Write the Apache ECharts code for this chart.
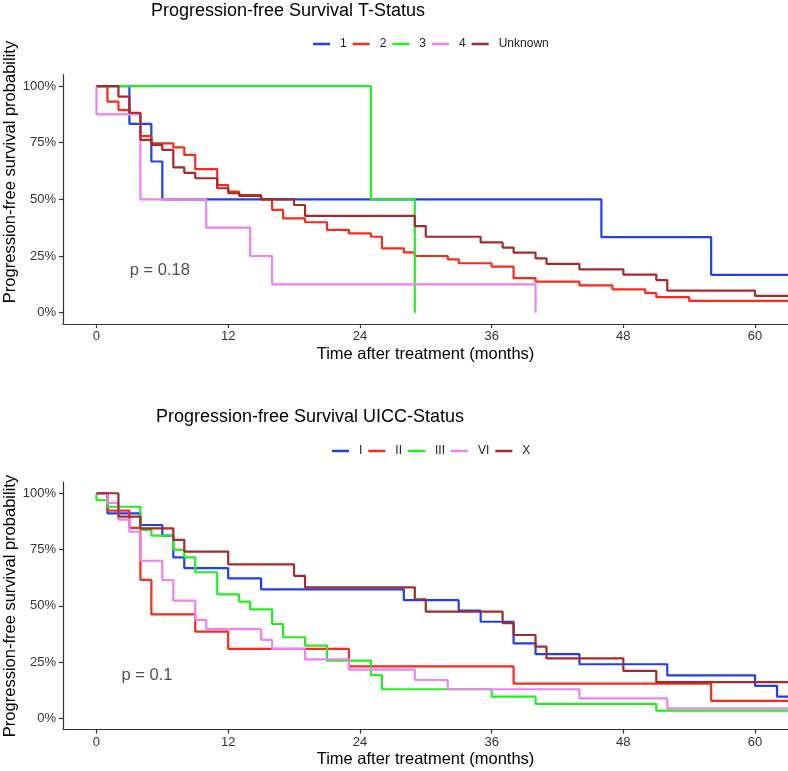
<!DOCTYPE html>
<html>
<head>
<meta charset="utf-8">
<script src="https://cdn.jsdelivr.net/npm/echarts@6/dist/echarts.min.js"></script>
<style>
html,body{margin:0;padding:0;background:#fff;}
#chart{width:788px;height:771px;}
</style>
</head>
<body>
<div id="chart"></div>
<script>
// ---------- DATA ----------
const xTicks = [0, 12, 24, 36, 48, 60];
const yTicks = [0, 0.25, 0.5, 0.75, 1];

// Top chart: T-Status
const tNames = ['1', '2', '3', '4', 'Unknown'];
const t1Time = [0, 3, 5, 6, 46, 56, 63];
const t1Surv = [1, 0.833, 0.667, 0.5, 0.333, 0.167, 0.167];
const t2Time = [0, 1, 2, 3, 4, 5, 7, 8, 9, 11, 12, 13, 15, 16, 17, 19, 21, 23, 25, 26, 28, 29, 32, 33, 36, 38, 40, 44, 47, 50, 51, 54, 63];
const t2Surv = [1, 0.931, 0.894, 0.880, 0.779, 0.747, 0.729, 0.696, 0.633, 0.563, 0.534, 0.519, 0.5, 0.454, 0.416, 0.399, 0.365, 0.35, 0.335, 0.284, 0.266, 0.25, 0.235, 0.218, 0.203, 0.152, 0.137, 0.12, 0.103, 0.086, 0.069, 0.052, 0.052];
const t3Time = [0, 25, 29];
const t3Surv = [1, 0.5, 0];
const t4Time = [0, 0, 4, 10, 14, 16, 40];
const t4Surv = [1, 0.875, 0.5, 0.375, 0.25, 0.125, 0];
const t5Time = [0, 2, 3, 4, 5, 6, 7, 8, 9, 11, 12, 13, 15, 18, 19, 29, 30, 35, 37, 38, 40, 41, 44, 48, 51, 52, 60, 63];
const t5Surv = [1, 0.953, 0.882, 0.762, 0.74, 0.718, 0.641, 0.617, 0.593, 0.549, 0.527, 0.515, 0.5, 0.475, 0.427, 0.382, 0.335, 0.31, 0.287, 0.265, 0.24, 0.215, 0.191, 0.168, 0.144, 0.097, 0.074, 0.074];
const tPText = 'p = 0.18';
const tPPos = [3.04, 0.186];

// Bottom chart: UICC-Status
const uNames = ['I', 'II', 'III', 'VI', 'X'];
const u1Time = [0, 1, 4, 6, 7, 8, 12, 15, 28, 33, 35, 38, 40, 44, 52, 60, 62, 63];
const u1Surv = [1, 0.911, 0.859, 0.812, 0.715, 0.667, 0.622, 0.573, 0.525, 0.478, 0.429, 0.333, 0.285, 0.24, 0.191, 0.144, 0.096, 0.096];
const u2Time = [0, 1, 3, 4, 5, 9, 12, 23, 38, 56, 63];
const u2Surv = [1, 0.923, 0.846, 0.615, 0.462, 0.385, 0.308, 0.231, 0.154, 0.077, 0.077];
const u3Time = [0, 0, 1, 4, 5, 7, 8, 9, 11, 13, 14, 16, 17, 19, 21, 25, 26, 36, 40, 51, 63];
const u3Surv = [1, 0.969, 0.94, 0.837, 0.812, 0.748, 0.715, 0.649, 0.551, 0.518, 0.484, 0.419, 0.36, 0.323, 0.256, 0.192, 0.129, 0.096, 0.064, 0.034, 0.034];
const u4Time = [0, 1, 2, 3, 4, 6, 7, 9, 10, 15, 16, 19, 23, 29, 32, 44, 52, 63];
const u4Surv = [1, 0.957, 0.883, 0.829, 0.7, 0.614, 0.523, 0.437, 0.396, 0.348, 0.308, 0.262, 0.216, 0.17, 0.129, 0.088, 0.044, 0.044];
const u5Time = [0, 2, 4, 7, 8, 12, 18, 19, 29, 30, 37, 38, 40, 41, 48, 51, 63];
const u5Surv = [1, 0.896, 0.844, 0.793, 0.741, 0.684, 0.633, 0.582, 0.529, 0.474, 0.423, 0.37, 0.318, 0.266, 0.211, 0.161, 0.161];
const uPText = 'p = 0.1';
const uPPos = [2.28, 0.188];

const xName = 'Time after treatment (months)';
const yName = 'Progression-free survival probability';

// ---------- STYLE ----------
const colors = ['#1f3ff0', '#fa2a1a', '#22ee22', '#ee82ee', '#a52a2a'];
const FONT = '"Liberation Sans", Arial, sans-serif';

function zip(t, s) { return t.map((v, i) => [v, s[i]]); }

const topData = [zip(t1Time, t1Surv), zip(t2Time, t2Surv), zip(t3Time, t3Surv), zip(t4Time, t4Surv), zip(t5Time, t5Surv)];
const botData = [zip(u1Time, u1Surv), zip(u2Time, u2Surv), zip(u3Time, u3Surv), zip(u4Time, u4Surv), zip(u5Time, u5Surv)];

function xAxis(gi) {
  return {
    type: 'value', gridIndex: gi, min: -3.05, max: 63,
    name: xName, nameLocation: 'middle', nameGap: 21.5,
    nameTextStyle: { fontFamily: FONT, fontSize: 16.5, color: '#000' },
    axisLine: { show: true, onZero: false, lineStyle: { color: '#333', width: 1.2 } },
    axisTick: { show: true, length: 4, customValues: xTicks, lineStyle: { color: '#333', width: 1.2 } },
    axisLabel: { customValues: xTicks, fontFamily: FONT, fontSize: 13, color: '#333', margin: 6 },
    splitLine: { show: false }
  };
}
function yAxis(gi) {
  return {
    type: 'value', gridIndex: gi, min: -0.05, max: 1.05,
    axisLine: { show: true, onZero: false, lineStyle: { color: '#333', width: 1.2 } },
    axisTick: { show: true, length: 4, customValues: yTicks, lineStyle: { color: '#333', width: 1.2 } },
    axisLabel: { customValues: yTicks, fontFamily: FONT, fontSize: 13, color: '#333', margin: 7,
      formatter: v => Math.round(v * 100) + '%' },
    splitLine: { show: false }
  };
}
function legend(names, left, top) {
  return {
    data: names, left: left, top: top, orient: 'horizontal', padding: 0,
    icon: 'rect', itemWidth: 17, itemHeight: 2.5, itemGap: 6,
    textStyle: { fontFamily: FONT, fontSize: 12, color: '#222', padding: [0, 0, 0, 5] },
    selectedMode: false
  };
}
function yTitle(x, y) {
  return {
    type: 'text', x: x, y: y, rotation: Math.PI / 2, silent: true,
    style: { text: yName, fontFamily: FONT, fontSize: 16.5, fill: '#000', align: 'center', verticalAlign: 'middle' }
  };
}

const series = [];
tNames.forEach((n, i) => series.push({
  name: n, type: 'line', step: 'end', xAxisIndex: 0, yAxisIndex: 0,
  data: topData[i], showSymbol: false, symbol: 'none',
  lineStyle: { color: colors[i], width: 2.2 }, itemStyle: { color: colors[i] }
}));
uNames.forEach((n, i) => series.push({
  name: n, type: 'line', step: 'end', xAxisIndex: 1, yAxisIndex: 1,
  data: botData[i], showSymbol: false, symbol: 'none',
  lineStyle: { color: colors[i], width: 2.2 }, itemStyle: { color: colors[i] }
}));
function pSeries(gi, pos, text) {
  return {
    type: 'scatter', xAxisIndex: gi, yAxisIndex: gi, data: [pos], symbolSize: 0, silent: true,
    label: { show: true, position: 'right', distance: 0, formatter: text,
      fontFamily: FONT, fontSize: 16.5, color: '#222' }
  };
}
series.push(pSeries(0, tPPos, tPText));
series.push(pSeries(1, uPPos, uPText));

const chart = echarts.init(document.getElementById('chart'), null, { renderer: 'canvas' });
chart.setOption({
  animation: false,
  backgroundColor: '#fff',
  title: [
    { text: 'Progression-free Survival T-Status', left: 151, top: 2, padding: 0,
      textStyle: { fontFamily: FONT, fontSize: 18, fontWeight: 'normal', color: '#000' } },
    { text: 'Progression-free Survival UICC-Status', left: 156, top: 408, padding: 0,
      textStyle: { fontFamily: FONT, fontSize: 18, fontWeight: 'normal', color: '#000' } }
  ],
  legend: [legend(tNames, 313, 38), legend(uNames, 332, 445)],
  grid: [
    { left: 63, top: 74.7, width: 725, height: 249.3, containLabel: false, outerBoundsMode: 'none' },
    { left: 63, top: 482, width: 725, height: 247.5, containLabel: false, outerBoundsMode: 'none' }
  ],
  xAxis: [xAxis(0), xAxis(1)],
  yAxis: [yAxis(0), yAxis(1)],
  graphic: [yTitle(10, 172), yTitle(10, 606)],
  series: series
});
</script>
</body>
</html>
